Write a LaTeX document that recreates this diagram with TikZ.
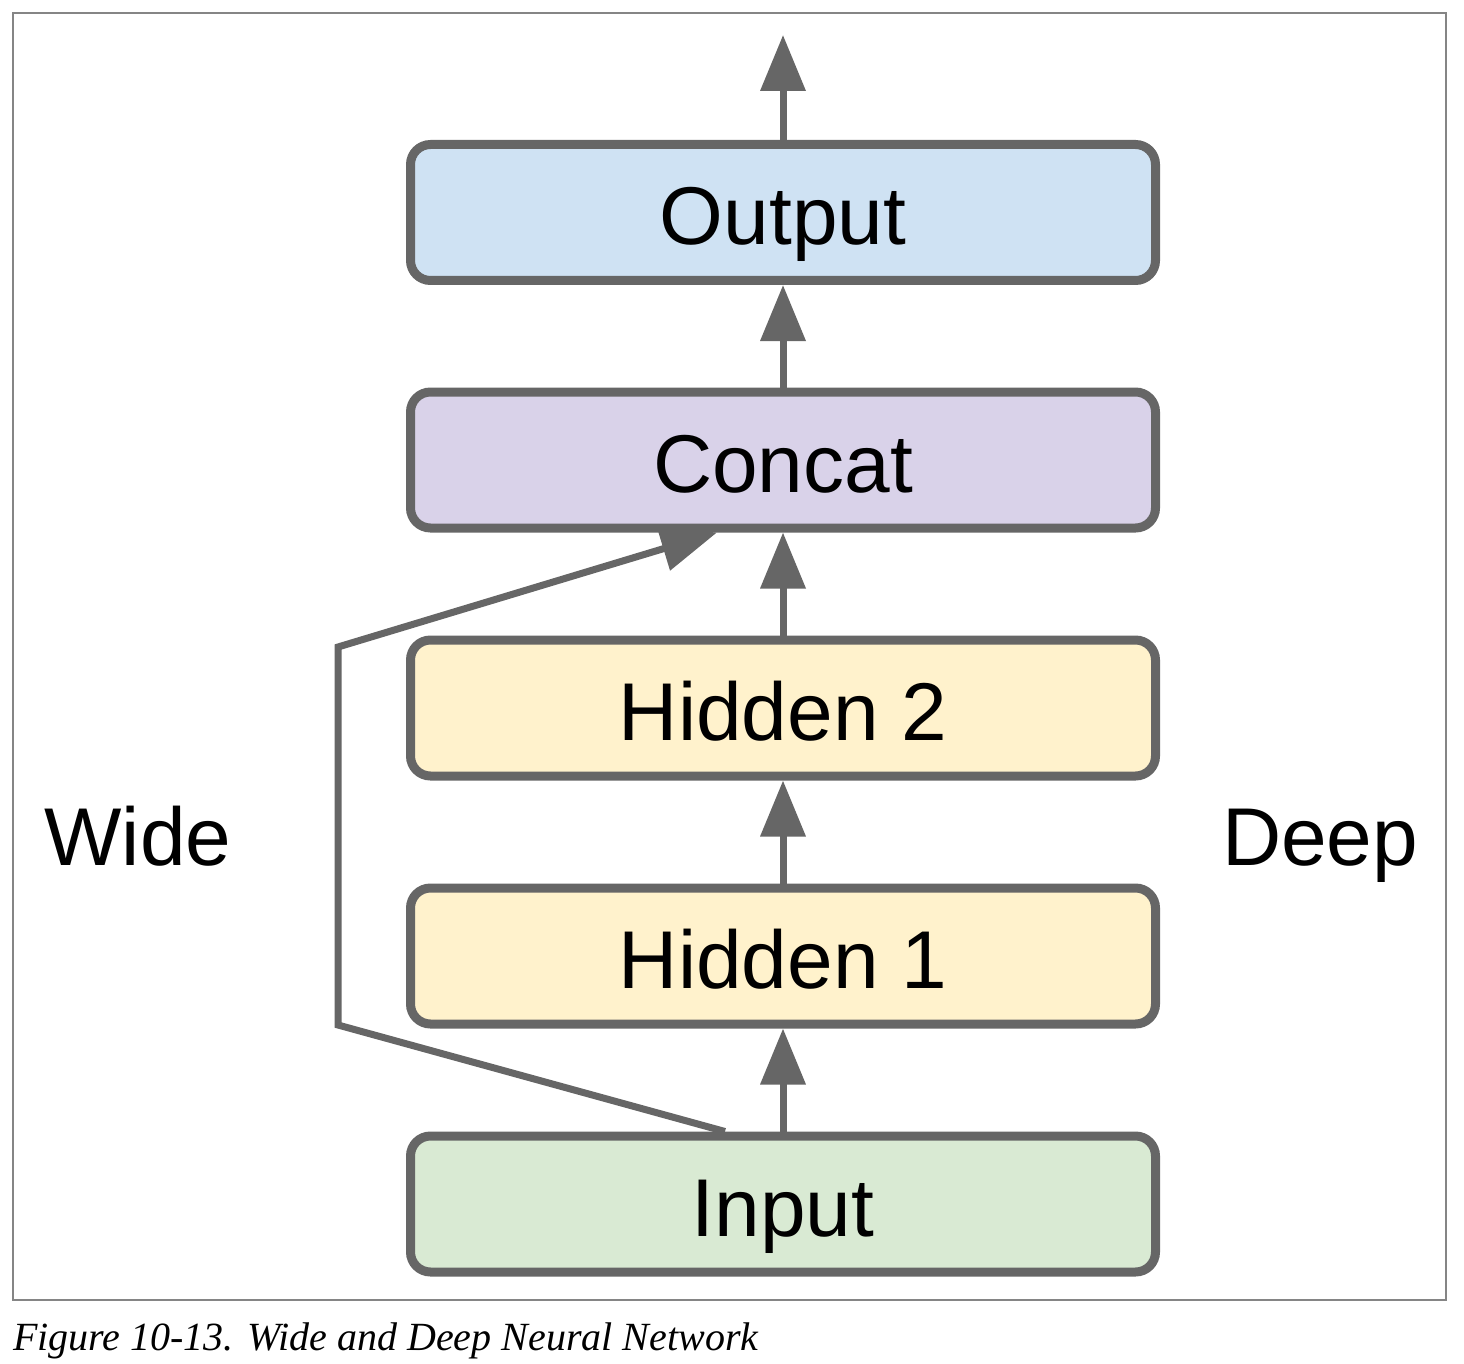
\documentclass[tikz,border=0pt]{standalone}
\usepackage{fontspec}
\setmainfont{Liberation Sans}
\newfontfamily\capfont{Liberation Serif}
\usetikzlibrary{arrows.meta}
\definecolor{edge}{HTML}{666666}
\definecolor{cout}{HTML}{CFE2F3}
\definecolor{ccat}{HTML}{D9D2E9}
\definecolor{chid}{HTML}{FFF2CC}
\definecolor{cin}{HTML}{D9EAD3}
\tikzset{
  layer/.style={draw=edge, line width=9pt, rounded corners=20pt,
    minimum width=745pt, minimum height=136pt, inner sep=0pt,
    text height=64pt, text depth=0pt,
    font=\fontsize{82}{96}\selectfont},
  wire/.style={draw=edge, line width=7pt},
  arr/.style={wire, -{Triangle[length=56pt,width=44pt]}},
  side/.style={font=\fontsize{82}{96}\selectfont, inner sep=0pt}
}
\begin{document}
\begin{tikzpicture}[x=1pt,y=-1pt]
\useasboundingbox (0,0) rectangle (1464,1364);
\draw[draw=edge!80, line width=1.5pt] (13,13) rectangle (1446,1300);
\node[layer, fill=cout] (out) at (783,212.5) {Output};
\node[layer, fill=ccat] (cc) at (783,460) {Concat};
\node[layer, fill=chid] (h2) at (783,708) {Hidden 2};
\node[layer, fill=chid] (h1) at (783,956) {Hidden 1};
\node[layer, fill=cin] (in) at (783,1204) {Input};
\coordinate (top) at (783,35);
\coordinate (wa) at (338,1025);
\coordinate (wb) at (338,647);
\draw[arr] (out.north) -- (top);
\draw[arr] (cc.north) -- (out.south);
\draw[arr] (h2.north) -- (cc.south);
\draw[arr] (h1.north) -- (h2.south);
\draw[arr] (in.north) -- (h1.south);
\draw[arr, line join=miter] ([xshift=-58pt]in.north) -- (wa) -- (wb) -- ([xshift=-66pt]cc.south);
\node[side, anchor=base] (wide) at (138,865) {Wide};
\node[side, anchor=base] (deep) at (1320,865) {Deep};
\node[anchor=base west, inner sep=0pt, font=\capfont\itshape\fontsize{40}{46}\selectfont] (cap) at (13,1350) {Figure 10-13. Wide and Deep Neural Network};
\end{tikzpicture}
\end{document}
